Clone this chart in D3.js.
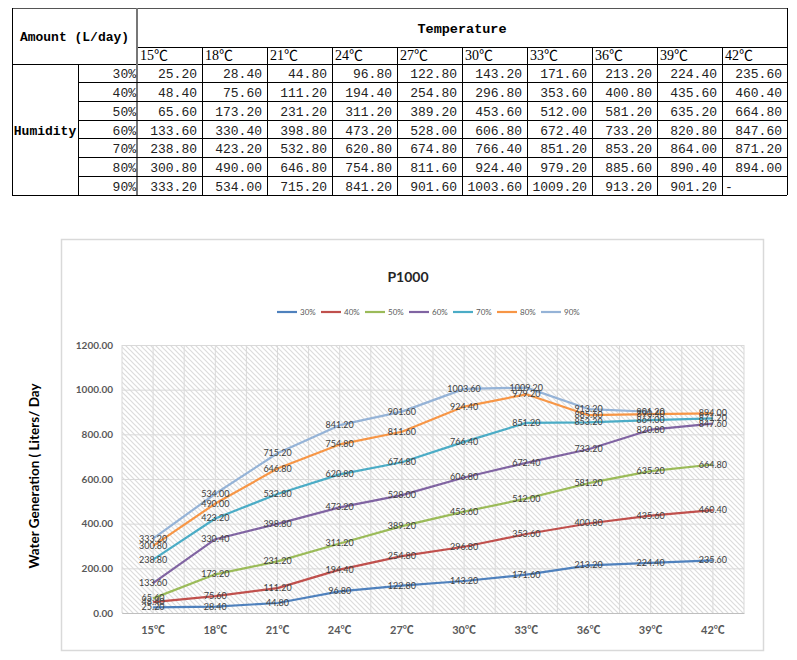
<!DOCTYPE html>
<html>
<head>
<meta charset="utf-8">
<script src="https://cdn.jsdelivr.net/npm/d3@7"></script>
<style>
  body { margin: 0; background: #fff; }
  svg { display: block; }
</style>
</head>
<body>
<svg id="chart" width="797" height="660"></svg>
<script>
// ---- data ----
const temps = ["15℃", "18℃", "21℃", "24℃", "27℃", "30℃", "33℃", "36℃", "39℃", "42℃"];
const humidity = ["30%", "40%", "50%", "60%", "70%", "80%", "90%"];

const h30 = [25.2, 28.4, 44.8, 96.8, 122.8, 143.2, 171.6, 213.2, 224.4, 235.6];
const h40 = [48.4, 75.6, 111.2, 194.4, 254.8, 296.8, 353.6, 400.8, 435.6, 460.4];
const h50 = [65.6, 173.2, 231.2, 311.2, 389.2, 453.6, 512.0, 581.2, 635.2, 664.8];
const h60 = [133.6, 330.4, 398.8, 473.2, 528.0, 606.8, 672.4, 733.2, 820.8, 847.6];
const h70 = [238.8, 423.2, 532.8, 620.8, 674.8, 766.4, 851.2, 853.2, 864.0, 871.2];
const h80 = [300.8, 490.0, 646.8, 754.8, 811.6, 924.4, 979.2, 885.6, 890.4, 894.0];
const h90 = [333.2, 534.0, 715.2, 841.2, 901.6, 1003.6, 1009.2, 913.2, 901.2, null];

const yTicks = [0, 200, 400, 600, 800, 1000, 1200];

const series = [h30, h40, h50, h60, h70, h80, h90];
const colors = ["#4f81bd", "#c0504d", "#9bbb59", "#8064a2", "#4bacc6", "#f79646", "#95b3d7"];

const svg = d3.select("#chart");
const fmt = d3.format(".2f");

// ---- 1. table ----
const tb = { left: 12, mid: 78, split: 137, right: 787, top: 8, head1: 47, head2: 64, bottom: 195 };
const mono = "'Liberation Mono', 'Noto Sans CJK SC', monospace";

const col = d3.scaleBand().domain(temps).range([tb.split, tb.right]);
const row = d3.scaleBand().domain(humidity).range([tb.head2, tb.bottom]);

const tg = svg.append("g").attr("class", "table");

function hline(x1, x2, y, color = "#000", w = 1) {
  tg.append("line").attr("x1", x1).attr("x2", x2).attr("y1", y).attr("y2", y)
    .attr("stroke", color).attr("stroke-width", w).attr("shape-rendering", "crispEdges");
}
function vline(x, y1, y2, color = "#000", w = 1) {
  tg.append("line").attr("x1", x).attr("x2", x).attr("y1", y1).attr("y2", y2)
    .attr("stroke", color).attr("stroke-width", w).attr("shape-rendering", "crispEdges");
}

// outer border + header lines
hline(tb.left, tb.right, tb.top, "#555");
hline(tb.split, tb.right, tb.head1);
hline(tb.left, tb.right, tb.head2);
hline(tb.left, tb.right, tb.bottom);
vline(tb.left, tb.top, tb.bottom);
vline(tb.right, tb.top, tb.bottom);
vline(tb.split, tb.top, tb.bottom, "#777", 2);
vline(tb.mid, tb.head2, tb.bottom);
// row lines (not through the Humidity cell)
humidity.slice(1).forEach((h) => hline(tb.mid, tb.right, row(h)));
// column lines
temps.slice(1).forEach((t) => vline(col(t), tb.head1, tb.bottom));

tg.append("text")
  .attr("x", (tb.left + tb.split) / 2)
  .attr("y", (tb.top + tb.head2) / 2 + 5)
  .attr("text-anchor", "middle")
  .attr("font-family", mono).attr("font-weight", "bold").attr("font-size", 13)
  .text("Amount (L/day)");

tg.append("text")
  .attr("x", (tb.split + tb.right) / 2)
  .attr("y", (tb.top + tb.head1) / 2 + 5)
  .attr("text-anchor", "middle")
  .attr("font-family", mono).attr("font-weight", "bold").attr("font-size", 13.5)
  .text("Temperature");

tg.append("text")
  .attr("x", (tb.left + tb.mid) / 2)
  .attr("y", (tb.head2 + tb.bottom) / 2 + 5)
  .attr("text-anchor", "middle")
  .attr("font-family", mono).attr("font-weight", "bold").attr("font-size", 13)
  .text("Humidity");

tg.selectAll(".th")
  .data(temps)
  .join("text")
  .attr("x", (d) => col(d) + 3)
  .attr("y", tb.head2 - 4)
  .attr("font-family", "'Liberation Serif', 'Noto Sans CJK SC', serif")
  .attr("font-size", 14)
  .text((d) => d);

tg.selectAll(".rh")
  .data(humidity)
  .join("text")
  .attr("x", tb.split - 1)
  .attr("y", (d) => row(d) + row.bandwidth() / 2 + 5)
  .attr("text-anchor", "end")
  .attr("font-family", mono).attr("font-size", 13)
  .attr("fill", "#222")
  .text((d) => d);

series.forEach((vals, i) => {
  tg.selectAll(".c" + i)
    .data(vals)
    .join("text")
    .attr("x", (d, j) => (d == null ? col(temps[j]) + 3 : col(temps[j]) + col.bandwidth() - 5))
    .attr("y", row(humidity[i]) + row.bandwidth() / 2 + 5)
    .attr("text-anchor", (d) => (d == null ? "start" : "end"))
    .attr("font-family", mono).attr("font-size", 13)
    .attr("fill", "#222")
    .text((d) => (d == null ? "-" : fmt(d)));
});

// ---- 2. line chart ----
svg.append("rect")
  .attr("x", 61.5).attr("y", 239.5).attr("width", 702).attr("height", 411)
  .attr("fill", "#fff").attr("stroke", "#d9d9d9").attr("stroke-width", 1.5);

const plot = { left: 122, right: 744, top: 345, bottom: 613 };
const x = d3.scaleBand().domain(temps).range([plot.left, plot.right]);
const cx = (t) => x(t) + x.bandwidth() / 2;
const y = d3.scaleLinear().domain([0, 1200]).range([plot.bottom, plot.top]);

const defs = svg.append("defs");
const pat = defs.append("pattern")
  .attr("id", "hatch")
  .attr("patternUnits", "userSpaceOnUse")
  .attr("width", 5).attr("height", 5);
pat.append("rect").attr("width", 5).attr("height", 5).attr("fill", "#fff");
pat.append("path")
  .attr("d", "M-1,-1 L6,6 M-1,4 L1,6 M4,-1 L6,1")
  .attr("stroke", "#dcdcdc").attr("stroke-width", 1.2);

svg.append("rect")
  .attr("x", plot.left).attr("y", plot.top)
  .attr("width", plot.right - plot.left).attr("height", plot.bottom - plot.top)
  .attr("fill", "url(#hatch)");

const g = svg.append("g");

// vertical gridlines at category edges and centres
const vGrid = [];
temps.forEach((t) => { vGrid.push(x(t)); vGrid.push(cx(t)); });
vGrid.push(plot.right);
g.selectAll(".vg")
  .data(vGrid)
  .join("line")
  .attr("x1", (d) => d).attr("x2", (d) => d)
  .attr("y1", plot.top).attr("y2", plot.bottom)
  .attr("stroke", "#d9d9d9").attr("stroke-width", 1);

g.append("g")
  .attr("transform", `translate(${plot.left},0)`)
  .call(d3.axisLeft(y).tickValues(yTicks).tickSize(-(plot.right - plot.left)).tickFormat(""))
  .call((a) => a.select(".domain").remove())
  .call((a) => a.selectAll("line").attr("stroke", "#d9d9d9"));

// y labels
g.append("g")
  .attr("transform", `translate(${plot.left},0)`)
  .call(d3.axisLeft(y).tickValues(yTicks).tickSize(0).tickPadding(9).tickFormat(fmt))
  .call((a) => a.select(".domain").remove())
  .call((a) => a.selectAll("text")
    .attr("fill", "#595959").attr("font-size", 10).attr("font-weight", "bold")
    .attr("font-family", "Lato, 'Open Sans', sans-serif"));

// x labels
g.append("g")
  .attr("transform", `translate(0,${plot.bottom})`)
  .call(d3.axisBottom(x).tickSize(0).tickPadding(13))
  .call((a) => a.select(".domain").attr("stroke", "#bfbfbf"))
  .call((a) => a.selectAll("text")
    .attr("fill", "#595959").attr("font-size", 11).attr("font-weight", "bold")
    .attr("font-family", "Lato, 'Noto Sans CJK SC', sans-serif"));

// lines
const line = d3.line()
  .defined((d) => d.v != null)
  .x((d) => cx(d.t))
  .y((d) => y(d.v));

series.forEach((vals, i) => {
  const pts = vals.map((v, j) => ({ t: temps[j], v }));
  g.append("path")
    .datum(pts)
    .attr("fill", "none")
    .attr("stroke", colors[i])
    .attr("stroke-width", 2.2)
    .attr("stroke-linejoin", "round")
    .attr("d", line);
});

// data labels
series.forEach((vals, i) => {
  const pts = vals.map((v, j) => ({ t: temps[j], v })).filter((d) => d.v != null);
  g.selectAll(".lbl" + i)
    .data(pts)
    .join("text")
    .attr("x", (d) => cx(d.t))
    .attr("y", (d) => y(d.v) + 3)
    .attr("text-anchor", "middle")
    .attr("font-family", "Lato, 'Open Sans', sans-serif")
    .attr("font-size", 9)
    .attr("fill", "#404040")
    .text((d) => fmt(d.v));
});

// title
svg.append("text")
  .attr("x", 408).attr("y", 282)
  .attr("text-anchor", "middle")
  .attr("font-family", "Lato, 'Open Sans', sans-serif")
  .attr("font-weight", "bold").attr("font-size", 14)
  .attr("fill", "#262626")
  .text("P1000");

// y title
svg.append("text")
  .attr("transform", "translate(39,476) rotate(-90)")
  .attr("text-anchor", "middle")
  .attr("font-family", "Lato, 'Open Sans', sans-serif")
  .attr("font-weight", "bold").attr("font-size", 13.5)
  .attr("fill", "#000")
  .text("Water Generation ( Liters/ Day");

// legend
const legend = svg.append("g").attr("transform", "translate(277,312)");
const item = legend.selectAll("g")
  .data(humidity)
  .join("g")
  .attr("transform", (d, i) => `translate(${i * 44},0)`);
item.append("line")
  .attr("x1", 0).attr("x2", 20)
  .attr("stroke", (d, i) => colors[i]).attr("stroke-width", 2.2);
item.append("text")
  .attr("x", 23).attr("y", 3)
  .attr("font-family", "Lato, 'Open Sans', sans-serif")
  .attr("font-size", 8).attr("fill", "#595959")
  .text((d) => d);
</script>
</body>
</html>
